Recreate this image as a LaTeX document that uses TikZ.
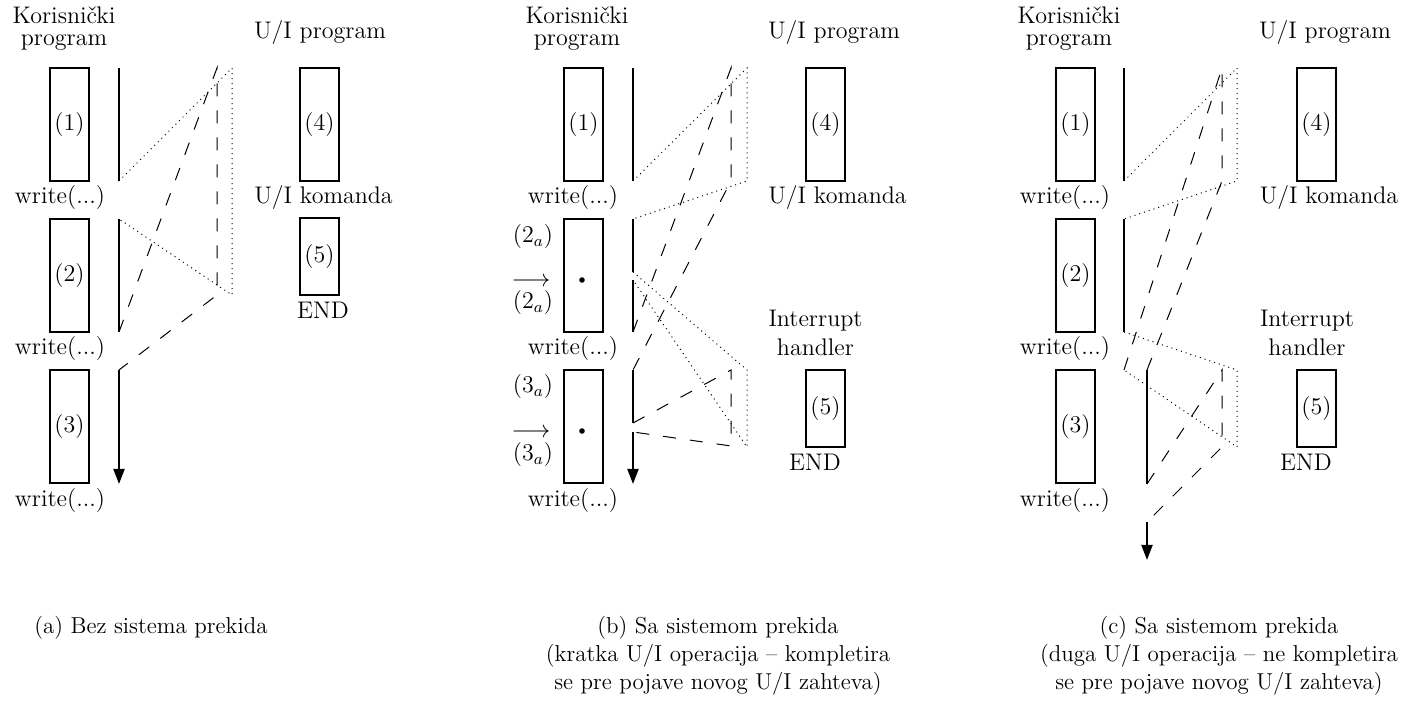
\documentclass[tikz,border=0pt]{standalone}
\usepackage{fontspec}
\usepackage{tikz}
\usetikzlibrary{arrows.meta}
\usepackage{amsmath, amssymb}
\newcommand{\slova}{\fontsize{12}{11}\selectfont}
\newcommand{\opisslova}{\fontsize{11.5}{14}\selectfont}

\begin{document}
\begin{tikzpicture}[x=0.5pt,y=-0.5pt,
    blok/.style={draw,line width=1pt,minimum width=19.5pt,minimum height=56.5pt,inner sep=0pt,font=\slova},
    kblok/.style={blok,minimum height=38.5pt},
    tekst/.style={inner sep=0pt,font=\slova},
    opis/.style={inner sep=0pt,align=center,font=\opisslova},
    tok/.style={line width=1pt},
    kraj/.style={tok,-{Triangle[length=7.5pt,width=5.5pt]}},
    prvi/.style={dotted,line width=0.5pt},
    drugi/.style={dash pattern=on 6.5pt off 7pt,line width=0.5pt},
    tacka/.style={circle,fill,inner sep=0pt,minimum size=2.8pt}]
    \useasboundingbox (0,0) rectangle (1410,704);

    % (a) bez prekida
    \node[tekst,align=center] (a-naslov) at (64,29) {Korisnički\\program};
    \node[tekst] (a-uip) at (320,33) {U/I program};
    \node[blok] (a1) at (69.5,124.5) {(1)};
    \node[blok] (a2) at (69.5,275.5) {(2)};
    \node[blok] (a3) at (69.5,427) {(3)};
    \node[blok] (a4) at (319.5,124.5) {(4)};
    \node[kblok] (a5) at (319.5,257) {(5)};
    \node[tekst] (a-w1) at (60,198) {write(...)};
    \node[tekst] (a-w2) at (60,349) {write(...)};
    \node[tekst] (a-w3) at (60,501) {write(...)};
    \node[tekst] (a-kom) at (323.5,198) {U/I komanda};
    \node[tekst] (a-end) at (323,310) {END};
    \coordinate (a-u1t) at (119,68);
    \coordinate (a-u1b) at (119,181);
    \coordinate (a-u2t) at (119,219);
    \coordinate (a-u2b) at (119,332);
    \coordinate (a-u3t) at (119,370);
    \coordinate (a-u3b) at (119,484);
    \coordinate (a-p1t) at (232,68);
    \coordinate (a-p1b) at (232,295);
    \coordinate (a-p2t) at (217,68);
    \coordinate (a-p2b) at (217,295);
    \draw[tok] (a-u1t) -- (a-u1b);
    \draw[tok] (a-u2t) -- (a-u2b);
    \draw[kraj] (a-u3t) -- (a-u3b);
    \draw[prvi] (a-u1b) -- (a-p1t) -- (a-p1b) -- (a-u2t);
    \draw[drugi] (a-u2b) -- (a-p2t) -- (a-p2b) -- (a-u3t);
    \node[opis] (a-opis) at (151,628) {(a) Bez sistema prekida};

    % (b) kratka U/I operacija
    \node[tekst,align=center] (b-naslov) at (577,29) {Korisnički\\program};
    \node[tekst] (b-uip) at (834,33) {U/I program};
    \node[blok] (b1) at (583.5,124.5) {(1)};
    \node[blok] (b2) at (583.5,275.5) {};
    \node[blok] (b3) at (583.5,427) {};
    \node[blok] (b4) at (825.5,124.5) {(4)};
    \node[kblok] (b5) at (825.5,408.5) {(5)};
    \node[tacka] (b2-tacka) at (582,280) {};
    \node[tacka] (b3-tacka) at (582,431) {};
    \node[tekst] (b-w1) at (573,198) {write(...)};
    \node[tekst] (b-w2) at (573,349) {write(...)};
    \node[tekst] (b-w3) at (573,501) {write(...)};
    \node[tekst] (b-kom) at (837.5,198) {U/I komanda};
    \node[tekst,align=center,font=\fontsize{12}{14.5}\selectfont] (b-ih) at (815.5,333) {Interrupt\\handler};
    \node[tekst] (b-end) at (815,462) {END};
    \node[tekst] (b-2a) at (533,237) {$(2_a)$};
    \node[tekst] (b-2s) at (531,282) {$\longrightarrow$};
    \node[tekst] (b-2b) at (533,303) {$(2_a)$};
    \node[tekst] (b-3a) at (533,387) {$(3_a)$};
    \node[tekst] (b-3s) at (531,433) {$\longrightarrow$};
    \node[tekst] (b-3b) at (533,455) {$(3_a)$};
    \coordinate (b-u1t) at (633,68);
    \coordinate (b-u1b) at (633,181);
    \coordinate (b-u2t) at (633,219);
    \coordinate (b-u2p) at (633,272);
    \coordinate (b-u2n) at (633,280);
    \coordinate (b-u2b) at (633,332);
    \coordinate (b-u3t) at (633,370);
    \coordinate (b-u3p) at (633,423);
    \coordinate (b-u3n) at (633,432);
    \coordinate (b-u3b) at (633,484);
    \coordinate (b-p1t) at (747,68);
    \coordinate (b-p1b) at (747,181);
    \coordinate (b-h1t) at (747,370);
    \coordinate (b-h1b) at (747,447);
    \coordinate (b-p2t) at (731,68);
    \coordinate (b-p2b) at (731,181);
    \coordinate (b-h2t) at (731,370);
    \coordinate (b-h2b) at (731,446);
    \draw[tok] (b-u1t) -- (b-u1b);
    \draw[tok] (b-u2t) -- (b-u2p);
    \draw[tok] (b-u2n) -- (b-u2b);
    \draw[tok] (b-u3t) -- (b-u3p);
    \draw[kraj] (b-u3n) -- (b-u3b);
    \draw[prvi] (b-u1b) -- (b-p1t) -- (b-p1b) -- (b-u2t);
    \draw[prvi] (b-u2p) -- (b-h1t) -- (b-h1b) -- (b-u2n);
    \draw[drugi] (b-u2b) -- (b-p2t) -- (b-p2b) -- (b-u3t);
    \draw[drugi] (b-u3p) -- (b-h2t) -- (b-h2b) -- (b-u3n);
    \node[opis] (b-opis) at (718,656) {(b) Sa sistemom prekida\\(kratka U/I operacija – kompletira\\se pre pojave novog U/I zahteva)};

    % (c) duga U/I operacija
    \node[tekst,align=center] (c-naslov) at (1069,29) {Korisnički\\program};
    \node[tekst] (c-uip) at (1325,33) {U/I program};
    \node[blok] (c1) at (1075.5,124.5) {(1)};
    \node[blok] (c2) at (1075.5,275.5) {(2)};
    \node[blok] (c3) at (1075.5,427) {(3)};
    \node[blok] (c4) at (1316.5,124.5) {(4)};
    \node[kblok] (c5) at (1316.5,408.5) {(5)};
    \node[tekst] (c-w1) at (1065,198) {write(...)};
    \node[tekst] (c-w2) at (1065,349) {write(...)};
    \node[tekst] (c-w3) at (1065,501) {write(...)};
    \node[tekst] (c-kom) at (1329,198) {U/I komanda};
    \node[tekst,align=center,font=\fontsize{12}{14.5}\selectfont] (c-ih) at (1307,333) {Interrupt\\handler};
    \node[tekst] (c-end) at (1306,462) {END};
    \coordinate (c-u1t) at (1124,68);
    \coordinate (c-u1b) at (1124,181);
    \coordinate (c-u2t) at (1124,219);
    \coordinate (c-u2b) at (1124,332);
    \coordinate (c-ceka) at (1124,370);
    \coordinate (c-u3t) at (1147,370);
    \coordinate (c-u3b) at (1147,484);
    \coordinate (c-u4t) at (1147,522);
    \coordinate (c-u4b) at (1147,560);
    \coordinate (c-p1t) at (1237,68);
    \coordinate (c-p1b) at (1237,181);
    \coordinate (c-h1t) at (1237,370);
    \coordinate (c-h1b) at (1237,447);
    \coordinate (c-p2t) at (1222,68);
    \coordinate (c-p2b) at (1222,181);
    \coordinate (c-h2t) at (1222,370);
    \coordinate (c-h2b) at (1222,447);
    \draw[tok] (c-u1t) -- (c-u1b);
    \draw[tok] (c-u2t) -- (c-u2b);
    \draw[tok] (c-u3t) -- (c-u3b);
    \draw[kraj] (c-u4t) -- (c-u4b);
    \draw[prvi] (c-u1b) -- (c-p1t) -- (c-p1b) -- (c-u2t);
    \draw[prvi] (c-u2b) -- (c-h1t) -- (c-h1b) -- (c-ceka);
    \draw[drugi] (c-ceka) -- (c-p2t) -- (c-p2b) -- (c-u3t);
    \draw[drugi] (c-u3b) -- (c-h2t) -- (c-h2b) -- (c-u4t);
    \node[opis] (c-opis) at (1219,656) {(c) Sa sistemom prekida\\(duga U/I operacija – ne kompletira\\se pre pojave novog U/I zahteva)};
\end{tikzpicture}
\end{document}
